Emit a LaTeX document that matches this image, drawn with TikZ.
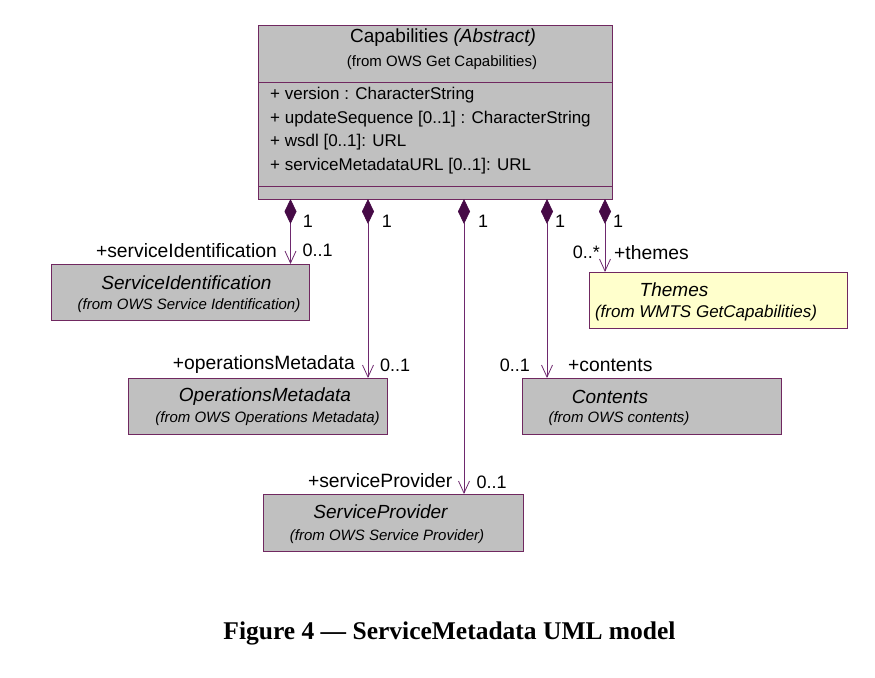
\documentclass[tikz,border=0pt]{standalone}
\usepackage{fontspec}
\setmainfont{Liberation Sans}
\newfontfamily\captionfont{Liberation Serif}
\usepackage{tikz}
\usetikzlibrary{arrows.meta, positioning}
\definecolor{umlgray}{RGB}{192,192,192}
\definecolor{umlyellow}{RGB}{255,255,204}
\definecolor{umlborder}{RGB}{112,40,96}
\definecolor{umlline}{RGB}{110,40,110}
\definecolor{umldiam}{RGB}{70,10,70}
\tikzstyle{classbox}=[rectangle, draw=umlborder, fill=umlgray, line width=0.9pt, anchor=north west, inner sep=0pt]
\tikzstyle{themebox}=[classbox, fill=umlyellow]
\tikzstyle{umltitle}=[font=\fontsize{19}{22}\selectfont\itshape, inner sep=0pt]
\tikzstyle{umlfrom}=[font=\fontsize{15}{18}\selectfont\itshape, inner sep=0pt]
\tikzstyle{attr}=[font=\fontsize{17}{20}\selectfont, anchor=west, inner sep=0pt]
\tikzstyle{mult}=[font=\fontsize{18}{21}\selectfont, inner sep=0pt]
\tikzstyle{role}=[font=\fontsize{19.3}{22}\selectfont, inner sep=0pt]
\tikzstyle{assoc}=[draw=umlline, line width=0.8pt, {Diamond[length=25pt,width=12pt,fill=umldiam,color=umldiam]}-{Straight Barb[length=12pt,width=11pt]}]

\begin{document}
\begin{tikzpicture}[x=1pt, y=-1pt]
  \useasboundingbox (0,0) rectangle (875,677);

  % main class
  \node[classbox, minimum width=354, minimum height=174] (cap) at (258,25) {};
  \draw[umlborder, line width=0.9pt] (cap.west |- 0,82.5) -- (cap.east |- 0,82.5);
  \draw[umlborder, line width=0.9pt] (cap.west |- 0,186.5) -- (cap.east |- 0,186.5);
  \node[inner sep=0pt, font=\fontsize{19}{22}\selectfont] (captitle) at (443,38) {Capabilities \textit{(Abstract)}};
  \node[inner sep=0pt, font=\fontsize{15}{18}\selectfont] (capfrom) at (442,62.5) {(from OWS Get Capabilities)};
  \node[attr] (at1) at (270,95) {+ version : CharacterString};
  \node[attr] (at2) at (270,119) {+ updateSequence [0..1] : CharacterString};
  \node[attr] (at3) at (270,142.5) {+ wsdl [0..1]: URL};
  \node[attr] (at4) at (270,166.5) {+ serviceMetadataURL [0..1]: URL};

  % parts
  \node[classbox, minimum width=258, minimum height=56] (sid) at (51,264) {};
  \node[umltitle] (sidname) at (186.5,282.5) {ServiceIdentification};
  \node[umlfrom] (sidfrom) at (189,306) {(from OWS Service Identification)};

  \node[classbox, minimum width=259, minimum height=56] (opm) at (128,378) {};
  \node[umltitle] (opmname) at (265,396.5) {OperationsMetadata};
  \node[umlfrom] (opmfrom) at (267.5,419) {(from OWS Operations Metadata)};

  \node[classbox, minimum width=260, minimum height=57] (spr) at (263,494) {};
  \node[umltitle] (sprname) at (380.5,511.5) {ServiceProvider};
  \node[umlfrom] (sprfrom) at (387,536.5) {(from OWS Service Provider)};

  \node[classbox, minimum width=259, minimum height=56] (cnt) at (522,378) {};
  \node[umltitle] (cntname) at (610,396.5) {Contents};
  \node[umlfrom] (cntfrom) at (619,419) {(from OWS contents)};

  \node[themebox, minimum width=258, minimum height=56] (thm) at (589,272) {};
  \node[umltitle] (thmname) at (674,290) {Themes};
  \node[umlfrom, font=\fontsize{17}{20}\selectfont\itshape] (thmfrom) at (706,313) {(from WMTS GetCapabilities)};

  % compositions
  \coordinate (a1) at (290.5,199);
  \coordinate (a2) at (368,199);
  \coordinate (a3) at (464,199);
  \coordinate (a4) at (547,199);
  \coordinate (a5) at (605,199);
  \draw[assoc] (a1) -- (a1 |- sid.north);
  \draw[assoc] (a2) -- (a2 |- opm.north);
  \draw[assoc] (a3) -- (a3 |- spr.north);
  \draw[assoc] (a4) -- (a4 |- cnt.north);
  \draw[assoc] (a5) -- (a5 |- thm.north);

  \node[mult] (m1) at (308,221.5) {1};
  \node[mult] (m2) at (387,221.5) {1};
  \node[mult] (m3) at (483,221.5) {1};
  \node[mult] (m4) at (560,221.5) {1};
  \node[mult] (m5) at (618,221.5) {1};

  \node[role, anchor=east] (r1) at (277,250.5) {+serviceIdentification};
  \node[mult, anchor=west] (n1) at (302.5,250.5) {0..1};
  \node[role, anchor=east] (r2) at (355,365) {+operationsMetadata};
  \node[mult, anchor=west] (n2) at (380,365) {0..1};
  \node[role, anchor=east] (r3) at (452.5,480.5) {+serviceProvider};
  \node[mult, anchor=west] (n3) at (476.5,482.5) {0..1};
  \node[mult, anchor=east] (n4) at (530,365) {0..1};
  \node[role, anchor=west] (r4) at (568,365) {+contents};
  \node[mult, anchor=east] (n5) at (600,252.5) {0..*};
  \node[role, anchor=west] (r5) at (614,252.5) {+themes};

  \node[inner sep=0pt, font=\captionfont\bfseries\fontsize{25.5}{30}\selectfont] (caption) at (449.5,633) {Figure 4 — ServiceMetadata UML model};
\end{tikzpicture}
\end{document}
